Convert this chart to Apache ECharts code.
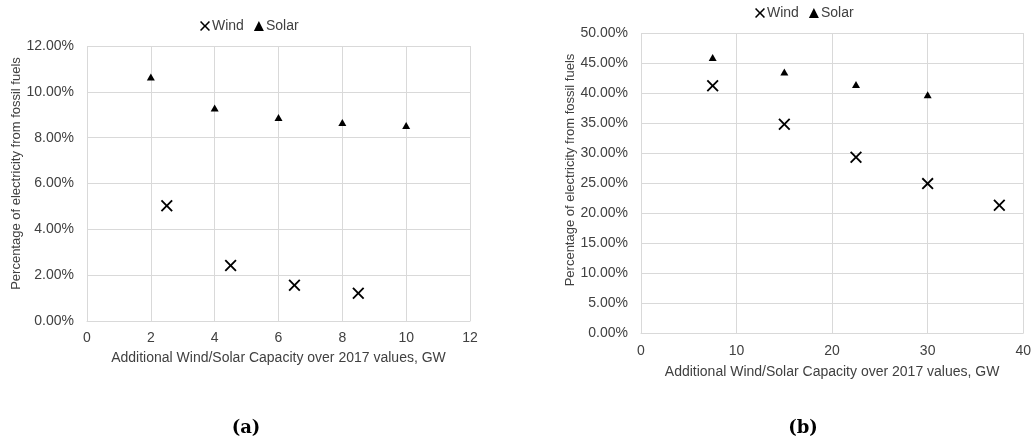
<!DOCTYPE html>
<html>
<head>
<meta charset="utf-8">
<script src="https://cdn.jsdelivr.net/npm/echarts@6/dist/echarts.min.js"></script>
<style>
html,body{margin:0;padding:0;background:#fff;}
#chart{width:1034px;height:442px;}
</style>
</head>
<body>
<div id="chart"></div>
<script>
// ---- data (a) ----
const windA_x = [2.5, 4.5, 6.5, 8.5];
const windA_y = [5.03, 2.42, 1.56, 1.21];
const solarA_x = [2, 4, 6, 8, 10];
const solarA_y = [10.65, 9.30, 8.88, 8.66, 8.53];
// ---- data (b) ----
const windB_x = [7.5, 15, 22.5, 30, 37.5];
const windB_y = [41.2, 34.8, 29.3, 24.9, 21.3];
const solarB_x = [7.5, 15, 22.5, 30];
const solarB_y = [45.9, 43.5, 41.4, 39.7];

const seriesNames = ['Wind', 'Solar'];
const xTitle = 'Additional Wind/Solar Capacity over 2017 values, GW';
const yTitle = 'Percentage of electricity from fossil fuels';
const captions = ['(a)', '(b)'];

const pair = (xs, ys) => xs.map((x, i) => [x, ys[i]]);
const X_PATH = 'path://M0,1.1 L1.1,0 L5,3.9 L8.9,0 L10,1.1 L6.1,5 L10,8.9 L8.9,10 L5,6.1 L1.1,10 L0,8.9 L3.9,5 Z';

const txt = '#404040';
const gridColor = '#d9d9d9';
const font = 'Liberation Sans, Arial, sans-serif';

function xAxis(gi, max, interval, labelMargin, nameGap) {
  return {
    type: 'value', gridIndex: gi, min: 0, max: max, interval: interval,
    axisLine: {show: true, lineStyle: {color: gridColor, width: 1}},
    axisTick: {show: false},
    splitLine: {show: true, lineStyle: {color: gridColor, width: 1}},
    axisLabel: {color: txt, fontSize: 14, fontFamily: font, margin: labelMargin},
    name: xTitle, nameLocation: 'middle', nameGap: nameGap,
    nameTextStyle: {color: txt, fontSize: 14, fontFamily: font}
  };
}
function yAxis(gi, max, interval, nameGap, shift) {
  return {
    type: 'value', gridIndex: gi, min: 0, max: max, interval: interval,
    axisLine: {show: false},
    axisTick: {show: false},
    splitLine: {show: true, lineStyle: {color: gridColor, width: 1}},
    axisLabel: {color: txt, fontSize: 14, fontFamily: font, margin: 13,
      formatter: v => v.toFixed(2) + '%'},
    name: yTitle, nameLocation: 'middle', nameGap: nameGap,
    nameTextStyle: {color: txt, fontSize: 13, fontFamily: font, padding: [0, 0, 0, shift]}
  };
}
function legend(left, top) {
  return {
    left: left, top: top, itemGap: 10, itemWidth: 10, itemHeight: 10,
    textStyle: {color: txt, fontSize: 14, fontFamily: font, padding: [0, 0, 0, -3]},
    data: [{name: seriesNames[0], icon: X_PATH}, {name: seriesNames[1], icon: 'triangle'}],
    selectedMode: false
  };
}
function sc(name, xi, data) {
  const isWind = name === 'Wind';
  return {
    name: name, type: 'scatter', xAxisIndex: xi, yAxisIndex: xi,
    data: data,
    symbol: isWind ? X_PATH : 'triangle',
    symbolSize: isWind ? [12, 12] : [8, 7],
    itemStyle: {color: '#000', opacity: 1},
    emphasis: {disabled: true},
    silent: true
  };
}

const chart = echarts.init(document.getElementById('chart'), null, {renderer: 'canvas'});
chart.setOption({
  animation: false,
  backgroundColor: '#fff',
  grid: [
    {left: 87, top: 46, width: 383, height: 275},
    {left: 641, top: 33, width: 384, height: 300}
  ],
  xAxis: [xAxis(0, 12, 2, 10, 30), xAxis(1, 40, 10, 11, 32)],
  yAxis: [yAxis(0, 12, 2, 62, 20), yAxis(1, 50, 5, 61, 26)],
  legend: [legend(195, 14), legend(750, 1)],
  title: [
    {text: captions[0], left: 241, top: 414, textAlign: 'center',
      textStyle: {fontFamily: 'DejaVu Serif, serif', fontWeight: 'bold', fontSize: 18, color: '#000'}},
    {text: captions[1], left: 798, top: 414, textAlign: 'center',
      textStyle: {fontFamily: 'DejaVu Serif, serif', fontWeight: 'bold', fontSize: 18, color: '#000'}}
  ],
  series: [
    sc('Wind', 0, pair(windA_x, windA_y)),
    sc('Solar', 0, pair(solarA_x, solarA_y)),
    sc('Wind', 1, pair(windB_x, windB_y)),
    sc('Solar', 1, pair(solarB_x, solarB_y))
  ]
});
</script>
</body>
</html>
